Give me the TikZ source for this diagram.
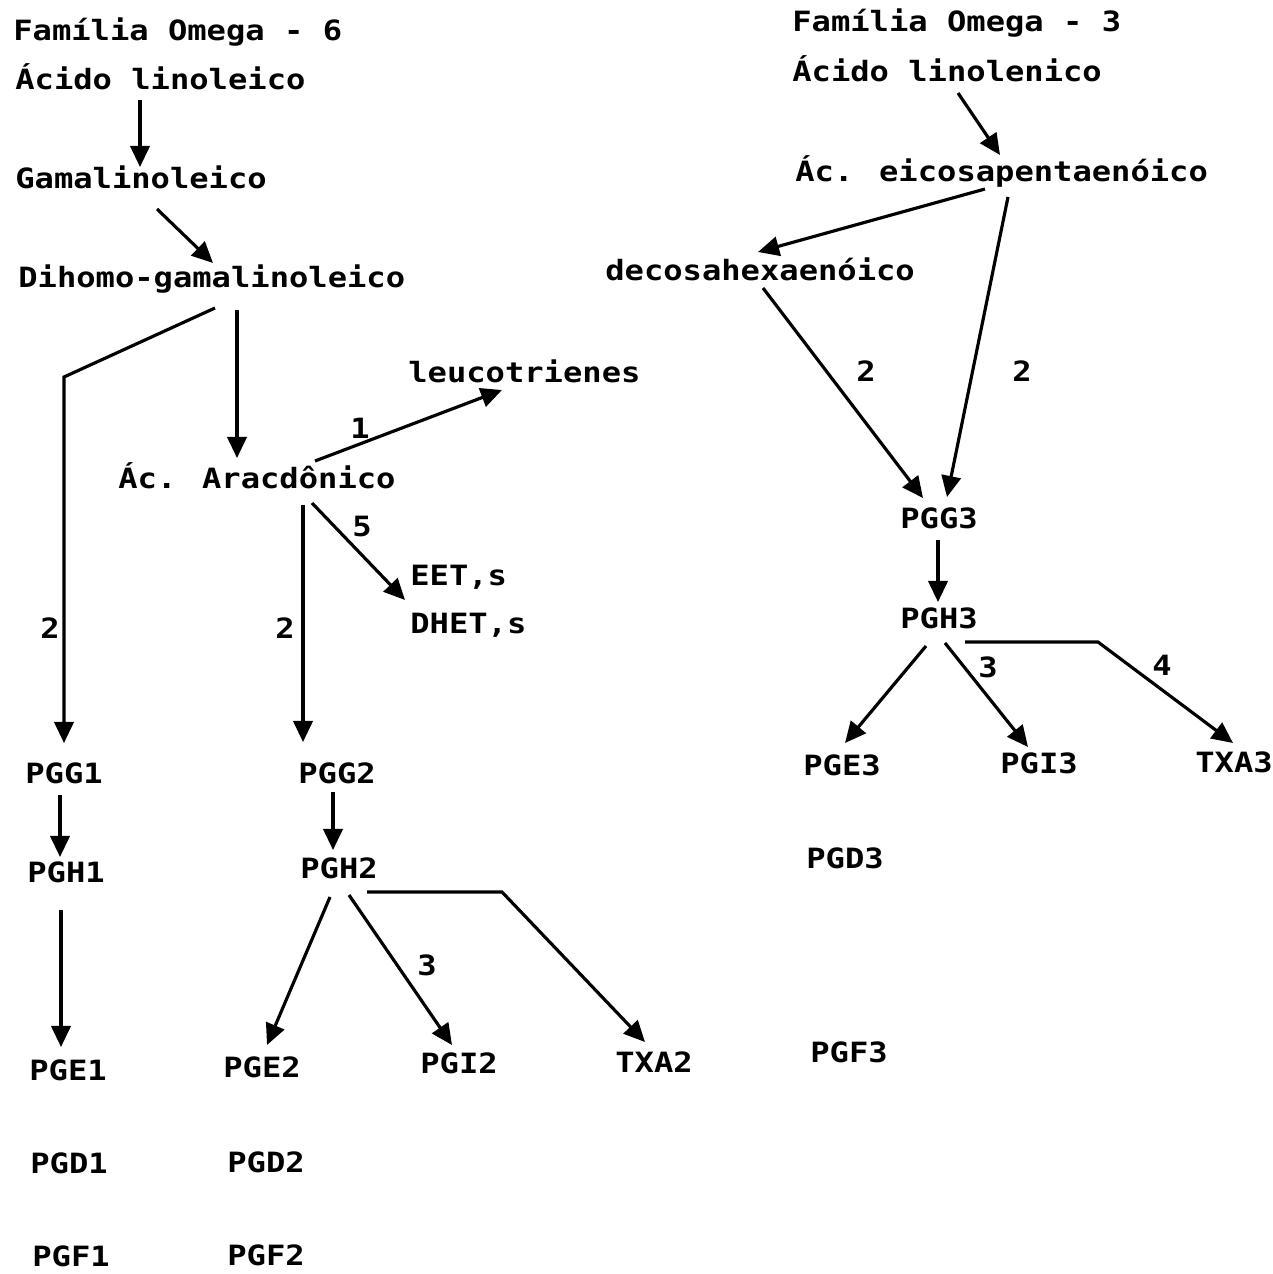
\documentclass[tikz,border=0pt]{standalone}
\usepackage{fontspec}
\newfontfamily\dotfont[FakeStretch=1.15]{DejaVu Sans Mono}
\usetikzlibrary{arrows.meta,calc}

\begin{document}
\begin{tikzpicture}[x=0.02cm,y=-0.02cm,
	lbl/.style={anchor=base west,inner sep=0pt,font=\dotfont\bfseries\fontsize{15.9}{19}\selectfont},
	num/.style={inner sep=0pt,font=\dotfont\bfseries\fontsize{15.9}{19}\selectfont},
	arr/.style={line width=1.8pt,-{Triangle[length=12pt,width=11pt]}}]
	\useasboundingbox (0,0) rectangle (1273,1274);
	
	% Omega-6 family
	\node[lbl] (om6)    at (13,41)  {Família Omega - 6};
	\node[lbl] (linol)  at (15,90)  {Ácido linoleico};
	\node[lbl] (gama)   at (15,188) {Gamalinoleico};
	\node[lbl] (dihomo) at (18,287) {Dihomo-gamalinoleico};
	\node[lbl] (leuco)  at (408,382) {leucotrienes};
	\node[lbl] (arac)   at (118,488) {Ác. Aracdônico};
	\node[lbl] (eet)    at (410,585) {EET,s};
	\node[lbl] (dhet)   at (410,633) {DHET,s};
	
	% Prostanoids, series 1 and 2
	\foreach \n/\x/\y/\txt in {pgg1/25/783/PGG1, pgh1/27/882/PGH1, pge1/29/1080/PGE1,
		pgd1/30/1173/PGD1, pgf1/32/1266/PGF1,
		pgg2/298/783/PGG2, pgh2/300/878/PGH2, pge2/223/1077/PGE2,
		pgi2/420/1073/PGI2, txa2/615/1072/TXA2,
		pgd2/227/1172/PGD2, pgf2/227/1265/PGF2}{
		\node[lbl] (\n) at (\x,\y) {\txt};
	}
	
	% Omega-3 family
	\node[lbl] (om3)     at (792,32)  {Família Omega - 3};
	\node[lbl] (linolen) at (792,82)  {Ácido linolenico};
	\node[lbl] (eico)    at (795,181) {Ác. eicosapentaenóico};
	\node[lbl] (deco)    at (605,280) {decosahexaenóico};
	
	% Prostanoids, series 3
	\foreach \n/\x/\y/\txt in {pgg3/900/528/PGG3, pgh3/900/628/PGH3,
		pge3/803/775/PGE3, pgi3/1000/773/PGI3, txa3/1195/772/TXA3,
		pgd3/806/868/PGD3, pgf3/810/1062/PGF3}{
		\node[lbl] (\n) at (\x,\y) {\txt};
	}
	
	% Bends of the broken connectors
	\coordinate (c1) at (64,377);
	\coordinate (c2) at (502,892);
	\coordinate (c3) at (1098,642);
	
	% Arrows, left side
	\draw[arr] ($(linol.base west)+(125,10)$) -- ($(gama.base west)+(125,-21)$);
	\draw[arr] ($(gama.base west)+(142,21)$) -- ($(dihomo.base west)+(195,-24)$);
	\draw[arr] ($(dihomo.base west)+(197,21)$) -- (c1) -- ($(pgg1.base west)+(39,-40)$);
	\draw[arr] ($(dihomo.base west)+(219,23)$) -- ($(arac.base west)+(119,-30)$);
	\draw[arr] ($(arac.base west)+(197,-27)$) -- ($(leuco.base west)+(94,8)$);
	\draw[arr] ($(arac.base west)+(194,15)$) -- ($(eet.base west)+(-5,15)$);
	\draw[arr] ($(arac.base west)+(185,17)$) -- ($(pgg2.base west)+(5,-41)$);
	\draw[arr] ($(pgg1.base west)+(35,12)$) -- ($(pgh1.base west)+(33,-25)$);
	\draw[arr] ($(pgg2.base west)+(35,9)$) -- ($(pgh2.base west)+(33,-28)$);
	\draw[arr] ($(pgh1.base west)+(34,28)$) -- ($(pge1.base west)+(32,-33)$);
	\draw[arr] ($(pgh2.base west)+(30,19)$) -- ($(pge2.base west)+(44,-32)$);
	\draw[arr] ($(pgh2.base west)+(49,17)$) -- ($(pgi2.base west)+(32,-28)$);
	\draw[arr] ($(pgh2.base west)+(67,14)$) -- (c2) -- ($(txa2.base west)+(30,-30)$);
	
	% Arrows, right side
	\draw[arr] ($(linolen.base west)+(166,11)$) -- ($(eico.base west)+(205,-26)$);
	\draw[arr] ($(eico.base west)+(190,8)$) -- ($(deco.base west)+(153,-28)$);
	\draw[arr] ($(eico.base west)+(213,16)$) -- ($(pgg3.base west)+(47,-31)$);
	\draw[arr] ($(deco.base west)+(158,8)$) -- ($(pgg3.base west)+(23,-30)$);
	\draw[arr] ($(pgg3.base west)+(38,12)$) -- ($(pgh3.base west)+(38,-26)$);
	\draw[arr] ($(pgh3.base west)+(26,18)$) -- ($(pge3.base west)+(42,-32)$);
	\draw[arr] ($(pgh3.base west)+(45,15)$) -- ($(pgi3.base west)+(28,-26)$);
	\draw[arr] ($(pgh3.base west)+(65,14)$) -- (c3) -- ($(txa3.base west)+(38,-29)$);
	
	% Enzyme numbers
	\foreach \n/\x/\y/\txt in {k2a/50/628/2, k2b/285/628/2, k1/360/428/1,
		k5/362/527/5, k3a/427/965/3, k2c/866/371/2, k2d/1022/371/2,
		k3b/988/667/3, k4/1162/665/4}{
		\node[num] (\n) at (\x,\y) {\txt};
	}
\end{tikzpicture}
\end{document}
